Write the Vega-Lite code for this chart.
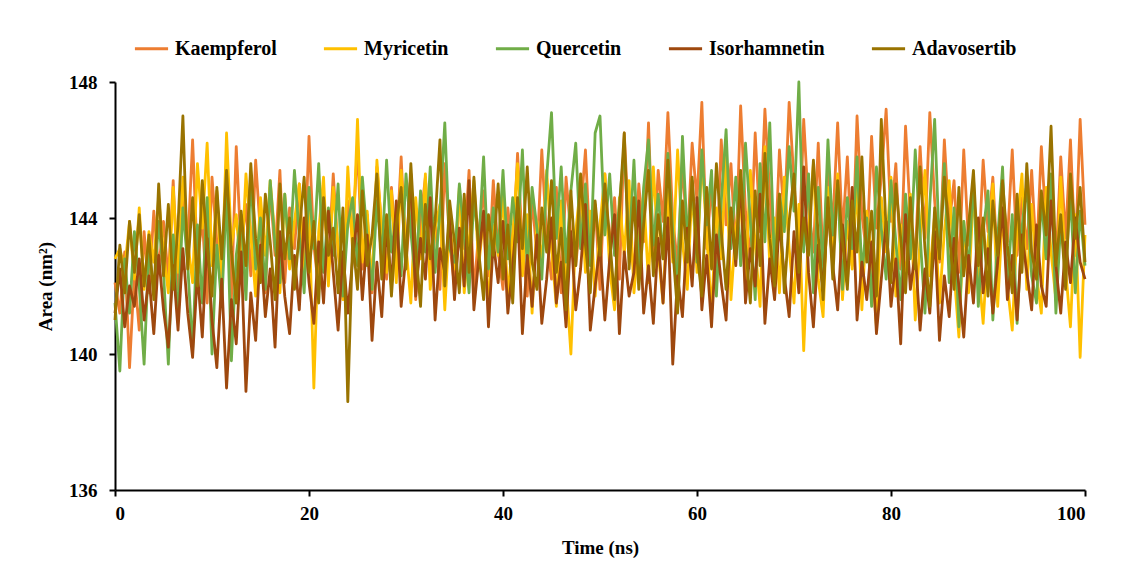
{
"$schema":"https://vega.github.io/schema/vega-lite/v6.json",
"width":970,"height":408,
"autosize":"none",
"padding":{"left":115,"top":82,"right":53,"bottom":85},
"background":"white",
"config":{"view":{"stroke":null},"font":"Liberation Serif"},
"datasets":{"md":[
{"t":0,"K":142.1,"M":142.8,"Q":141.5,"I":141.2,"A":141.0},
{"t":0.5,"K":141.2,"M":143.1,"Q":139.5,"I":142.5,"A":143.2},
{"t":1,"K":143.0,"M":142.5,"Q":142.8,"I":140.8,"A":141.8},
{"t":1.5,"K":139.6,"M":143.9,"Q":141.2,"I":142.0,"A":143.9},
{"t":2,"K":142.4,"M":142.2,"Q":143.6,"I":141.4,"A":142.4},
{"t":2.5,"K":140.7,"M":144.3,"Q":142.0,"I":142.8,"A":144.1},
{"t":3,"K":143.6,"M":141.9,"Q":139.7,"I":141.0,"A":142.0},
{"t":3.5,"K":141.8,"M":143.6,"Q":143.1,"I":142.3,"A":143.5},
{"t":4,"K":144.2,"M":142.7,"Q":141.8,"I":140.6,"A":141.6},
{"t":4.5,"K":142.5,"M":144.6,"Q":143.9,"I":142.9,"A":145.0},
{"t":5,"K":143.9,"M":143.0,"Q":142.4,"I":141.3,"A":142.3},
{"t":5.5,"K":142.2,"M":141.8,"Q":139.7,"I":140.2,"A":144.4},
{"t":6,"K":145.1,"M":144.9,"Q":143.5,"I":142.6,"A":141.9},
{"t":6.5,"K":141.9,"M":142.4,"Q":141.0,"I":140.7,"A":143.8},
{"t":7,"K":144.6,"M":145.2,"Q":144.3,"I":143.1,"A":147.0},
{"t":7.5,"K":143.1,"M":143.3,"Q":142.6,"I":141.2,"A":142.5},
{"t":8,"K":146.3,"M":142.1,"Q":140.1,"I":139.9,"A":144.6},
{"t":8.5,"K":142.7,"M":145.6,"Q":143.8,"I":142.4,"A":142.0},
{"t":9,"K":144.0,"M":143.7,"Q":141.5,"I":140.5,"A":145.1},
{"t":9.5,"K":141.5,"M":146.2,"Q":144.6,"I":143.4,"A":143.2},
{"t":10,"K":145.2,"M":142.6,"Q":140.0,"I":141.0,"A":141.7},
{"t":10.5,"K":143.3,"M":144.8,"Q":143.2,"I":139.6,"A":144.9},
{"t":11,"K":142.0,"M":141.9,"Q":141.4,"I":142.2,"A":142.8},
{"t":11.5,"K":144.8,"M":146.5,"Q":144.8,"I":139.0,"A":145.4},
{"t":12,"K":141.6,"M":143.2,"Q":139.8,"I":141.6,"A":143.0},
{"t":12.5,"K":146.1,"M":144.1,"Q":142.9,"I":140.3,"A":141.5},
{"t":13,"K":143.0,"M":142.3,"Q":144.1,"I":143.0,"A":144.2},
{"t":13.5,"K":144.4,"M":145.3,"Q":141.6,"I":138.9,"A":142.6},
{"t":14,"K":142.3,"M":143.5,"Q":145.3,"I":141.8,"A":145.6},
{"t":14.5,"K":145.7,"M":141.7,"Q":142.5,"I":140.4,"A":143.4},
{"t":15,"K":143.5,"M":144.6,"Q":144.0,"I":143.2,"A":142.1},
{"t":15.5,"K":141.8,"M":142.9,"Q":141.9,"I":141.1,"A":144.7},
{"t":16,"K":144.9,"M":145.1,"Q":145.1,"I":142.5,"A":143.3},
{"t":16.5,"K":142.9,"M":143.4,"Q":143.2,"I":140.2,"A":141.6},
{"t":17,"K":145.4,"M":141.8,"Q":142.1,"I":143.6,"A":145.0},
{"t":17.5,"K":142.1,"M":144.7,"Q":144.7,"I":141.7,"A":142.8},
{"t":18,"K":144.3,"M":142.5,"Q":142.8,"I":140.6,"A":144.0},
{"t":18.5,"K":143.1,"M":143.9,"Q":145.4,"I":142.9,"A":141.9},
{"t":19,"K":145.0,"M":145.0,"Q":143.5,"I":141.3,"A":143.6},
{"t":19.5,"K":142.4,"M":142.2,"Q":141.8,"I":144.0,"A":145.2},
{"t":20,"K":146.4,"M":144.3,"Q":144.9,"I":142.1,"A":142.4},
{"t":20.5,"K":143.2,"M":139.0,"Q":143.1,"I":140.9,"A":143.9},
{"t":21,"K":141.9,"M":143.6,"Q":145.6,"I":143.3,"A":141.5},
{"t":21.5,"K":144.7,"M":145.2,"Q":142.4,"I":141.5,"A":144.6},
{"t":22,"K":142.6,"M":142.0,"Q":144.3,"I":144.2,"A":142.9},
{"t":22.5,"K":145.3,"M":144.9,"Q":142.9,"I":142.4,"A":143.7},
{"t":23,"K":143.0,"M":143.1,"Q":145.0,"I":140.7,"A":141.8},
{"t":23.5,"K":141.7,"M":141.6,"Q":141.7,"I":143.0,"A":144.3},
{"t":24,"K":144.5,"M":145.5,"Q":143.8,"I":141.2,"A":138.6},
{"t":24.5,"K":143.4,"M":143.0,"Q":144.6,"I":142.8,"A":143.4},
{"t":25,"K":146.2,"M":146.9,"Q":142.6,"I":144.1,"A":141.9},
{"t":25.5,"K":142.5,"M":142.7,"Q":145.2,"I":141.6,"A":144.8},
{"t":26,"K":144.1,"M":144.2,"Q":143.4,"I":143.5,"A":142.6},
{"t":26.5,"K":141.8,"M":141.9,"Q":141.9,"I":140.4,"A":143.5},
{"t":27,"K":145.5,"M":145.7,"Q":144.5,"I":142.7,"A":145.3},
{"t":27.5,"K":143.7,"M":143.6,"Q":142.8,"I":141.1,"A":142.2},
{"t":28,"K":142.2,"M":142.4,"Q":145.7,"I":143.8,"A":144.1},
{"t":28.5,"K":144.9,"M":144.8,"Q":143.0,"I":142.0,"A":141.7},
{"t":29,"K":143.0,"M":142.1,"Q":144.1,"I":144.5,"A":143.8},
{"t":29.5,"K":145.8,"M":145.4,"Q":142.3,"I":141.4,"A":144.9},
{"t":30,"K":142.7,"M":143.2,"Q":145.3,"I":142.9,"A":142.5},
{"t":30.5,"K":144.4,"M":141.5,"Q":143.6,"I":145.3,"A":145.6},
{"t":31,"K":141.6,"M":144.6,"Q":142.1,"I":141.7,"A":143.1},
{"t":31.5,"K":143.9,"M":142.8,"Q":144.8,"I":143.4,"A":141.4},
{"t":32,"K":145.2,"M":145.3,"Q":143.0,"I":142.2,"A":144.4},
{"t":32.5,"K":142.5,"M":141.9,"Q":145.5,"I":144.6,"A":142.8},
{"t":33,"K":144.0,"M":143.7,"Q":142.4,"I":141.0,"A":143.9},
{"t":33.5,"K":141.9,"M":144.4,"Q":144.2,"I":143.1,"A":146.3},
{"t":34,"K":145.6,"M":141.3,"Q":146.8,"I":142.4,"A":142.0},
{"t":34.5,"K":143.3,"M":143.9,"Q":143.1,"I":144.0,"A":144.5},
{"t":35,"K":142.0,"M":142.5,"Q":142.7,"I":141.6,"A":143.3},
{"t":35.5,"K":144.7,"M":144.9,"Q":145.0,"I":143.7,"A":141.8},
{"t":36,"K":143.1,"M":141.8,"Q":143.5,"I":142.0,"A":144.7},
{"t":36.5,"K":145.4,"M":143.3,"Q":141.8,"I":145.1,"A":142.4},
{"t":37,"K":141.8,"M":145.1,"Q":144.6,"I":141.3,"A":145.2},
{"t":37.5,"K":143.6,"M":142.6,"Q":143.2,"I":142.8,"A":143.0},
{"t":38,"K":144.8,"M":144.0,"Q":145.8,"I":144.2,"A":141.6},
{"t":38.5,"K":142.3,"M":141.4,"Q":142.5,"I":140.8,"A":144.1},
{"t":39,"K":145.1,"M":143.8,"Q":144.3,"I":143.3,"A":142.9},
{"t":39.5,"K":143.0,"M":142.9,"Q":143.0,"I":142.1,"A":145.0},
{"t":40,"K":141.9,"M":144.7,"Q":145.4,"I":143.9,"A":142.2},
{"t":40.5,"K":144.3,"M":141.6,"Q":142.8,"I":141.2,"A":143.8},
{"t":41,"K":142.8,"M":143.5,"Q":144.6,"I":142.6,"A":141.5},
{"t":41.5,"K":145.9,"M":145.6,"Q":143.3,"I":144.3,"A":144.6},
{"t":42,"K":143.2,"M":142.3,"Q":146.0,"I":140.6,"A":143.1},
{"t":42.5,"K":141.7,"M":144.1,"Q":142.5,"I":142.9,"A":145.5},
{"t":43,"K":144.6,"M":141.2,"Q":144.9,"I":141.4,"A":142.7},
{"t":43.5,"K":142.9,"M":143.9,"Q":143.7,"I":143.5,"A":141.9},
{"t":44,"K":146.0,"M":142.7,"Q":142.2,"I":140.9,"A":144.3},
{"t":44.5,"K":143.4,"M":145.4,"Q":145.2,"I":142.2,"A":143.0},
{"t":45,"K":142.2,"M":143.1,"Q":147.1,"I":144.0,"A":145.1},
{"t":45.5,"K":144.9,"M":141.4,"Q":143.4,"I":141.5,"A":142.4},
{"t":46,"K":141.8,"M":144.5,"Q":145.5,"I":142.7,"A":143.7},
{"t":46.5,"K":145.2,"M":142.2,"Q":142.7,"I":140.8,"A":141.3},
{"t":47,"K":143.5,"M":140.0,"Q":144.8,"I":143.6,"A":144.8},
{"t":47.5,"K":142.6,"M":143.6,"Q":146.2,"I":141.3,"A":142.6},
{"t":48,"K":144.1,"M":145.0,"Q":143.1,"I":142.5,"A":145.3},
{"t":48.5,"K":146.0,"M":142.4,"Q":145.0,"I":144.4,"A":143.2},
{"t":49,"K":142.9,"M":144.2,"Q":142.6,"I":140.7,"A":141.8},
{"t":49.5,"K":144.4,"M":141.7,"Q":146.5,"I":142.0,"A":144.5},
{"t":50,"K":141.9,"M":143.8,"Q":147.0,"I":143.2,"A":142.9},
{"t":50.5,"K":145.3,"M":145.3,"Q":143.5,"I":141.0,"A":145.0},
{"t":51,"K":143.0,"M":142.5,"Q":145.3,"I":142.8,"A":143.4},
{"t":51.5,"K":144.6,"M":141.3,"Q":142.9,"I":144.1,"A":141.6},
{"t":52,"K":142.2,"M":144.6,"Q":144.4,"I":140.6,"A":144.2},
{"t":52.5,"K":146.5,"M":142.9,"Q":146.1,"I":143.0,"A":146.5},
{"t":53,"K":143.6,"M":145.1,"Q":143.0,"I":141.7,"A":142.5},
{"t":53.5,"K":142.4,"M":141.8,"Q":145.7,"I":142.4,"A":144.6},
{"t":54,"K":145.0,"M":143.4,"Q":142.4,"I":144.5,"A":141.9},
{"t":54.5,"K":143.3,"M":144.7,"Q":144.9,"I":141.2,"A":143.8},
{"t":55,"K":146.8,"M":142.1,"Q":146.3,"I":142.6,"A":145.4},
{"t":55.5,"K":142.7,"M":145.5,"Q":143.2,"I":140.9,"A":142.3},
{"t":56,"K":145.4,"M":143.0,"Q":144.7,"I":143.4,"A":144.1},
{"t":56.5,"K":143.9,"M":141.5,"Q":142.8,"I":141.5,"A":142.8},
{"t":57,"K":147.1,"M":144.8,"Q":145.9,"I":144.0,"A":145.7},
{"t":57.5,"K":144.0,"M":142.7,"Q":143.6,"I":139.7,"A":143.1},
{"t":58,"K":142.6,"M":146.0,"Q":141.9,"I":142.3,"A":141.2},
{"t":58.5,"K":145.7,"M":143.3,"Q":146.4,"I":141.1,"A":144.5},
{"t":59,"K":143.2,"M":141.9,"Q":143.4,"I":143.7,"A":142.7},
{"t":59.5,"K":146.2,"M":144.9,"Q":145.1,"I":142.0,"A":145.2},
{"t":60,"K":144.5,"M":142.4,"Q":142.7,"I":144.6,"A":143.0},
{"t":60.5,"K":147.4,"M":145.8,"Q":146.0,"I":141.3,"A":141.7},
{"t":61,"K":143.1,"M":143.5,"Q":143.8,"I":142.9,"A":144.9},
{"t":61.5,"K":145.0,"M":141.2,"Q":145.4,"I":140.8,"A":142.5},
{"t":62,"K":142.4,"M":144.3,"Q":141.7,"I":143.5,"A":145.6},
{"t":62.5,"K":146.3,"M":142.8,"Q":144.5,"I":142.1,"A":143.6},
{"t":63,"K":143.8,"M":145.9,"Q":146.6,"I":141.0,"A":141.9},
{"t":63.5,"K":145.6,"M":141.6,"Q":143.1,"I":144.2,"A":144.3},
{"t":64,"K":142.9,"M":143.7,"Q":145.2,"I":142.6,"A":142.8},
{"t":64.5,"K":147.3,"M":144.5,"Q":142.6,"I":145.2,"A":145.4},
{"t":65,"K":144.2,"M":142.0,"Q":146.2,"I":141.5,"A":143.2},
{"t":65.5,"K":142.8,"M":145.4,"Q":143.9,"I":143.1,"A":141.5},
{"t":66,"K":146.5,"M":143.2,"Q":141.6,"I":142.0,"A":144.8},
{"t":66.5,"K":143.6,"M":141.4,"Q":145.6,"I":144.7,"A":142.6},
{"t":67,"K":147.2,"M":146.1,"Q":143.3,"I":140.9,"A":145.9},
{"t":67.5,"K":144.7,"M":142.6,"Q":146.8,"I":142.8,"A":143.4},
{"t":68,"K":142.5,"M":144.0,"Q":142.5,"I":141.6,"A":142.0},
{"t":68.5,"K":146.0,"M":141.8,"Q":144.7,"I":143.9,"A":144.7},
{"t":69,"K":143.9,"M":145.2,"Q":143.6,"I":142.3,"A":141.8},
{"t":69.5,"K":147.4,"M":143.1,"Q":146.1,"I":141.1,"A":143.9},
{"t":70,"K":145.1,"M":141.5,"Q":144.2,"I":143.6,"A":145.3},
{"t":70.5,"K":142.9,"M":144.4,"Q":148.0,"I":141.8,"A":142.4},
{"t":71,"K":146.9,"M":140.1,"Q":143.0,"I":145.5,"A":144.0},
{"t":71.5,"K":144.3,"M":143.7,"Q":145.3,"I":142.4,"A":142.9},
{"t":72,"K":143.0,"M":145.6,"Q":141.8,"I":140.8,"A":145.7},
{"t":72.5,"K":146.2,"M":142.2,"Q":144.9,"I":143.2,"A":143.5},
{"t":73,"K":142.7,"M":141.1,"Q":142.4,"I":141.9,"A":141.6},
{"t":73.5,"K":145.5,"M":144.9,"Q":146.3,"I":144.3,"A":144.6},
{"t":74,"K":143.8,"M":142.8,"Q":143.5,"I":142.6,"A":142.2},
{"t":74.5,"K":146.8,"M":145.3,"Q":145.0,"I":141.3,"A":145.1},
{"t":75,"K":143.5,"M":141.6,"Q":141.9,"I":143.8,"A":143.3},
{"t":75.5,"K":145.8,"M":143.9,"Q":144.6,"I":142.1,"A":141.9},
{"t":76,"K":142.6,"M":142.5,"Q":143.1,"I":144.9,"A":144.5},
{"t":76.5,"K":147.0,"M":145.0,"Q":145.8,"I":141.0,"A":143.0},
{"t":77,"K":144.1,"M":141.3,"Q":142.3,"I":142.7,"A":145.8},
{"t":77.5,"K":142.9,"M":144.2,"Q":144.0,"I":141.6,"A":142.7},
{"t":78,"K":146.4,"M":142.9,"Q":141.4,"I":143.3,"A":144.2},
{"t":78.5,"K":143.7,"M":140.8,"Q":145.5,"I":140.6,"A":141.7},
{"t":79,"K":145.2,"M":144.6,"Q":143.7,"I":142.2,"A":146.9},
{"t":79.5,"K":147.2,"M":143.0,"Q":142.2,"I":143.9,"A":143.6},
{"t":80,"K":143.9,"M":145.2,"Q":145.1,"I":141.4,"A":142.1},
{"t":80.5,"K":145.6,"M":141.7,"Q":143.3,"I":142.8,"A":145.0},
{"t":81,"K":142.5,"M":143.8,"Q":141.6,"I":140.3,"A":143.4},
{"t":81.5,"K":146.7,"M":142.1,"Q":144.7,"I":144.1,"A":141.8},
{"t":82,"K":144.0,"M":144.7,"Q":142.8,"I":141.9,"A":144.6},
{"t":82.5,"K":142.8,"M":141.0,"Q":146.0,"I":143.0,"A":142.5},
{"t":83,"K":146.1,"M":143.4,"Q":143.5,"I":140.7,"A":145.5},
{"t":83.5,"K":143.4,"M":145.4,"Q":141.2,"I":142.5,"A":143.1},
{"t":84,"K":147.1,"M":142.3,"Q":144.4,"I":141.2,"A":141.4},
{"t":84.5,"K":144.5,"M":144.1,"Q":146.9,"I":143.6,"A":144.3},
{"t":85,"K":142.7,"M":141.5,"Q":143.0,"I":140.4,"A":142.8},
{"t":85.5,"K":146.3,"M":143.6,"Q":145.6,"I":142.3,"A":145.2},
{"t":86,"K":143.8,"M":145.1,"Q":142.1,"I":141.1,"A":143.6},
{"t":86.5,"K":145.1,"M":142.4,"Q":144.3,"I":143.4,"A":141.9},
{"t":87,"K":142.4,"M":140.5,"Q":140.8,"I":142.0,"A":144.9},
{"t":87.5,"K":146.0,"M":143.9,"Q":143.9,"I":140.5,"A":142.3},
{"t":88,"K":143.2,"M":141.8,"Q":142.5,"I":142.9,"A":143.8},
{"t":88.5,"K":144.9,"M":144.8,"Q":145.2,"I":141.5,"A":145.4},
{"t":89,"K":142.6,"M":142.6,"Q":141.4,"I":144.0,"A":142.6},
{"t":89.5,"K":145.7,"M":140.9,"Q":143.6,"I":141.8,"A":144.0},
{"t":90,"K":143.6,"M":143.3,"Q":144.8,"I":143.1,"A":141.7},
{"t":90.5,"K":145.2,"M":145.0,"Q":141.0,"I":141.2,"A":144.5},
{"t":91,"K":142.5,"M":141.4,"Q":143.4,"I":142.7,"A":142.9},
{"t":91.5,"K":144.8,"M":144.2,"Q":145.5,"I":144.3,"A":145.1},
{"t":92,"K":143.3,"M":142.0,"Q":142.0,"I":141.6,"A":143.2},
{"t":92.5,"K":146.0,"M":140.7,"Q":144.1,"I":142.9,"A":141.8},
{"t":93,"K":142.9,"M":143.7,"Q":140.9,"I":141.0,"A":144.7},
{"t":93.5,"K":144.6,"M":145.3,"Q":143.7,"I":143.5,"A":142.4},
{"t":94,"K":143.1,"M":141.9,"Q":145.0,"I":142.4,"A":145.6},
{"t":94.5,"K":145.4,"M":144.4,"Q":142.3,"I":141.3,"A":143.0},
{"t":95,"K":142.8,"M":142.3,"Q":141.5,"I":143.8,"A":142.2},
{"t":95.5,"K":146.1,"M":141.2,"Q":144.6,"I":142.0,"A":144.8},
{"t":96,"K":143.7,"M":144.9,"Q":142.8,"I":141.4,"A":143.5},
{"t":96.5,"K":144.9,"M":143.0,"Q":145.3,"I":144.5,"A":146.7},
{"t":97,"K":142.6,"M":141.6,"Q":141.2,"I":142.6,"A":142.6},
{"t":97.5,"K":145.8,"M":145.2,"Q":143.9,"I":141.2,"A":144.1},
{"t":98,"K":143.4,"M":142.5,"Q":142.4,"I":143.3,"A":141.9},
{"t":98.5,"K":146.3,"M":140.8,"Q":144.7,"I":142.1,"A":145.3},
{"t":99,"K":142.9,"M":144.1,"Q":141.8,"I":144.0,"A":143.4},
{"t":99.5,"K":146.9,"M":139.9,"Q":144.2,"I":142.7,"A":144.9},
{"t":100,"K":143.8,"M":143.5,"Q":142.6,"I":142.2,"A":142.7}
]},
"data":{"name":"md"},
"transform":[{"fold":["K","M","Q","I","A"],"as":["s","v"]}],
"mark":{"type":"line","strokeWidth":2.8,"strokeJoin":"round"},
"encoding":{
"x":{"field":"t","type":"quantitative","scale":{"domain":[0,100],"nice":false},
"axis":{"title":"Time (ns)","values":[0,20,40,60,80,100],"grid":false,"domainColor":"black","domainWidth":2,"tickColor":"black","tickWidth":2,"tickSize":6,"labelFont":"Liberation Serif","labelFontWeight":"bold","labelFontSize":19,"labelColor":"black","labelPadding":8,"titleFont":"Liberation Serif","titleFontWeight":"bold","titleFontSize":19,"titleColor":"black","titlePadding":15}},
"y":{"field":"v","type":"quantitative","scale":{"domain":[136,148],"nice":false,"zero":false},
"axis":{"title":"Area (nm²)","values":[136,140,144,148],"grid":false,"domainColor":"black","domainWidth":2,"tickColor":"black","tickWidth":2,"tickSize":6,"labelFont":"Liberation Serif","labelFontWeight":"bold","labelFontSize":19,"labelColor":"black","labelPadding":12,"titleFont":"Liberation Serif","titleFontWeight":"bold","titleFontSize":19,"titleColor":"black","titlePadding":13}},
"color":{"field":"s","type":"nominal","scale":{"domain":["K","M","Q","I","A"],"range":["#ED7D31","#FFC000","#70AD47","#9E480E","#997300"]},
"legend":{"orient":"none","legendX":18,"legendY":-52,"direction":"horizontal","title":null,"symbolType":"stroke","symbolSize":1100,"symbolStrokeWidth":3,"labelFont":"Liberation Serif","labelFontWeight":"bold","labelFontSize":20,"labelColor":"black","labelOffset":5,"columnPadding":40,"labelLimit":300,
"labelExpr":"datum.label=='K'?'Kaempferol':datum.label=='M'?'Myricetin':datum.label=='Q'?'Quercetin':datum.label=='I'?'Isorhamnetin':'Adavosertib'"}}
}
}
